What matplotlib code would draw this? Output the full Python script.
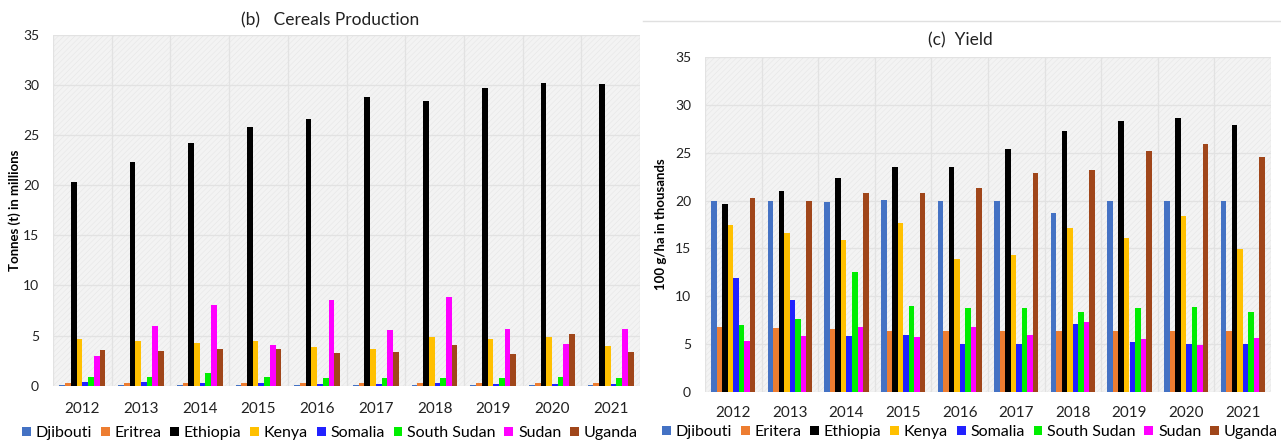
import matplotlib
matplotlib.use("Agg")
import matplotlib.pyplot as plt
import numpy as np
from matplotlib.patches import Rectangle

plt.rcParams["font.family"] = ["Lato", "DejaVu Sans"]
plt.rcParams["hatch.linewidth"] = 0.4

YEARS = ["2012", "2013", "2014", "2015", "2016", "2017", "2018", "2019", "2020", "2021"]

# --- (b) cereals production, million tonnes ---------------------------------
PROD_COUNTRIES = ["Djibouti", "Eritrea", "Ethiopia", "Kenya", "Somalia",
                  "South Sudan", "Sudan", "Uganda"]
PROD_DJIBOUTI = [0.02, 0.02, 0.02, 0.02, 0.02, 0.02, 0.02, 0.02, 0.02, 0.02]
PROD_ERITREA = [0.28, 0.28, 0.28, 0.28, 0.28, 0.28, 0.28, 0.28, 0.28, 0.28]
PROD_ETHIOPIA = [20.3, 22.35, 24.2, 25.85, 26.6, 28.8, 28.4, 29.7, 30.25, 30.1]
PROD_KENYA = [4.67, 4.47, 4.23, 4.47, 3.83, 3.67, 4.83, 4.63, 4.9, 3.97]
PROD_SOMALIA = [0.4, 0.4, 0.23, 0.27, 0.17, 0.17, 0.23, 0.13, 0.17, 0.17]
PROD_SOUTH_SUDAN = [0.83, 0.9, 1.27, 0.9, 0.77, 0.73, 0.73, 0.73, 0.83, 0.8]
PROD_SUDAN = [3.0, 5.93, 8.03, 4.07, 8.53, 5.53, 8.87, 5.63, 4.2, 5.7]
PROD_UGANDA = [3.53, 3.47, 3.63, 3.7, 3.23, 3.33, 4.03, 3.13, 5.17, 3.33]

# --- (c) yield, 100 g/ha in thousands ------------------------------------
YIELD_COUNTRIES = ["Djibouti", "Eritera", "Ethiopia", "Kenya", "Somalia",
                   "South Sudan", "Sudan", "Uganda"]
YIELD_DJIBOUTI = [20.0, 20.0, 19.8, 20.05, 20.0, 20.0, 18.7, 20.0, 20.0, 20.0]
YIELD_ERITREA = [6.84, 6.7, 6.6, 6.35, 6.35, 6.35, 6.35, 6.35, 6.35, 6.35]
YIELD_ETHIOPIA = [19.6, 21.0, 22.35, 23.47, 23.5, 25.4, 27.3, 28.33, 28.65, 27.93]
YIELD_KENYA = [17.43, 16.63, 15.87, 17.7, 13.85, 14.3, 17.1, 16.04, 18.4, 14.9]
YIELD_SOMALIA = [11.88, 9.62, 5.87, 5.97, 5.03, 5.03, 7.08, 5.2, 5.0, 5.0]
YIELD_SOUTH_SUDAN = [7.01, 7.64, 12.5, 9.03, 8.75, 8.82, 8.4, 8.75, 8.85, 8.4]
YIELD_SUDAN = [5.35, 5.9, 6.84, 5.73, 6.84, 5.97, 7.29, 5.49, 4.86, 5.69]
YIELD_UGANDA = [20.26, 19.95, 20.75, 20.82, 21.3, 22.84, 23.22, 25.2, 25.87, 24.5]

COLORS = ["#4472C4", "#ED7D31", "#000000", "#FFC000",
          "#2121FF", "#00EE00", "#FF00FF", "#A0461A"]


def grouped_bars(ax, series, labels, group=0.78):
    n = len(series)
    w = group / n
    x = np.arange(len(YEARS))
    handles = []
    for i, (vals, lab, col) in enumerate(zip(series, labels, COLORS)):
        h = ax.bar(x - group / 2 + w * (i + 0.5), vals, width=w, color=col,
                   label=lab, zorder=3, linewidth=0)
        handles.append(h)
    return handles


def style_axes(ax, xlim, xpad, ypad):
    ax.set_facecolor("#f3f3f3")
    # light diagonal pattern fill of the plot area
    ax.add_patch(Rectangle((0, 0), 1, 1, transform=ax.transAxes, fill=False,
                           hatch="//////", edgecolor="#e6e6e6", lw=0, zorder=0))
    ax.set_ylim(0, 35)
    ax.set_yticks(range(0, 36, 5))
    ax.set_xlim(*xlim)
    ax.set_xticks(np.arange(len(YEARS)))
    ax.set_xticklabels(YEARS)
    ax.set_xticks(np.arange(-0.5, len(YEARS), 0.5), minor=True)
    ax.grid(True, axis="y", color="#e2e2e2", lw=0.9, zorder=1)
    ax.grid(True, axis="x", which="minor", color="#e2e2e2", lw=0.9, zorder=1)
    for s in ax.spines.values():
        s.set_visible(False)
    ax.tick_params(axis="both", which="both", length=0)
    ax.tick_params(axis="x", labelsize=11, pad=xpad, colors="#222222")
    ax.tick_params(axis="y", labelsize=10, pad=ypad, colors="#222222")


def add_legend(handles, labels, xc, yc):
    fig.legend(handles, labels, loc="center", bbox_to_anchor=(xc / 1281, 1 - yc / 440),
               ncol=8, frameon=False, fontsize=11.5, handlelength=0.55,
               handleheight=0.55, handletextpad=0.3, columnspacing=0.55,
               borderaxespad=0, borderpad=0)


fig = plt.figure(figsize=(12.81, 4.40), dpi=100)

# left panel: cereals production
ax1 = fig.add_axes([53 / 1281, 1 - 385.6 / 440, 587 / 1281, 350.6 / 440])
h1 = grouped_bars(ax1, [PROD_DJIBOUTI, PROD_ERITREA, PROD_ETHIOPIA, PROD_KENYA,
                        PROD_SOMALIA, PROD_SOUTH_SUDAN, PROD_SUDAN, PROD_UGANDA],
                  PROD_COUNTRIES)
style_axes(ax1, (-0.5, 9.42), 12, 10)
ax1.set_ylabel("Tonnes (t) in millions", fontsize=9.5, fontweight="bold",
               labelpad=1)
fig.text(330 / 1281, 1 - 20 / 440, "(b)   Cereals Production", fontsize=12.5,
         ha="center", va="center", color="#222222")
add_legend(h1, PROD_COUNTRIES, 330, 433)

# faint frame line above the right panel
fig.add_artist(plt.Line2D([643 / 1281, 1], [1 - 21 / 440, 1 - 21 / 440],
                          color="#e0e0e0", lw=1))

# right panel: yield
ax2 = fig.add_axes([705 / 1281, 1 - 392 / 440, 566 / 1281, 335 / 440])
h2 = grouped_bars(ax2, [YIELD_DJIBOUTI, YIELD_ERITREA, YIELD_ETHIOPIA, YIELD_KENYA,
                        YIELD_SOMALIA, YIELD_SOUTH_SUDAN, YIELD_SUDAN, YIELD_UGANDA],
                  YIELD_COUNTRIES)
style_axes(ax2, (-0.5, 9.5), 10, 10)
ax2.set_ylabel("100 g/ha in thousands", fontsize=9.5, fontweight="bold",
               labelpad=6)
fig.text(960 / 1281, 1 - 40 / 440, "(c)  Yield", fontsize=12.5,
         ha="center", va="center", color="#222222")
add_legend(h2, YIELD_COUNTRIES, 970, 432)

fig.savefig("out.png", dpi=100)
